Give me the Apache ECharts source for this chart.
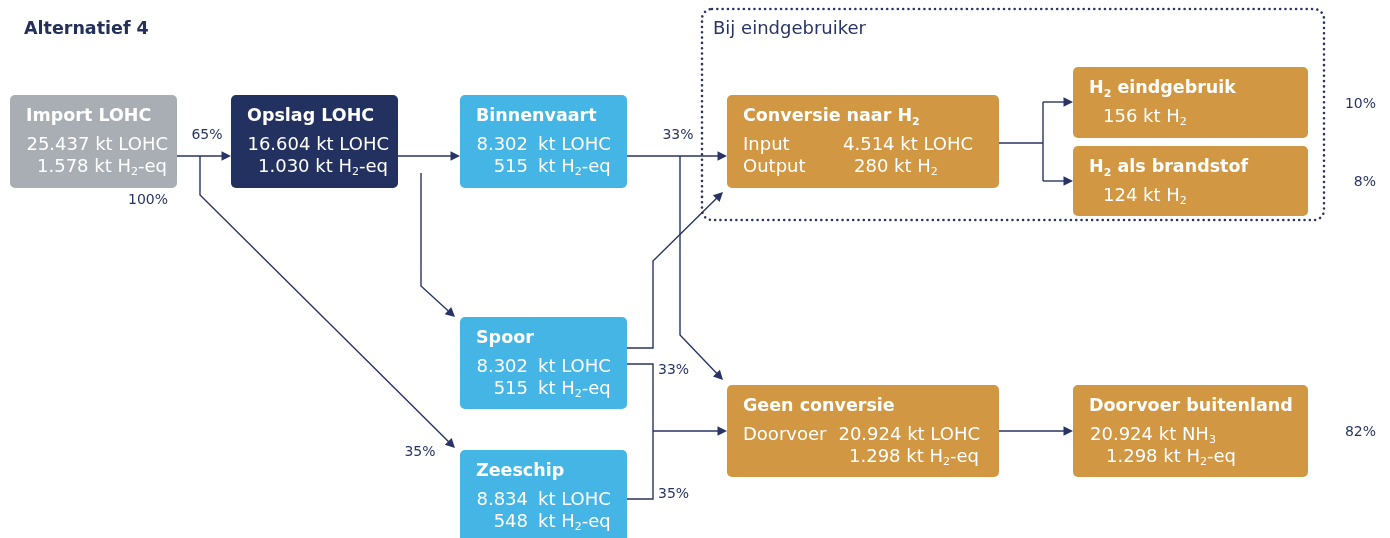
<!DOCTYPE html>
<html><head><meta charset="utf-8">
<script src="https://cdn.jsdelivr.net/npm/echarts@6/dist/echarts.min.js"></script>
<style>html,body{margin:0;padding:0;background:#fff}#c{width:1390px;height:538px}</style>
</head><body><div id="c"></div>
<script>
// ---------------- data ----------------
const chartTitle = 'Alternatief 4';
const groupLabel = 'Bij eindgebruiker';
const nodeNames = ['Import LOHC', 'Opslag LOHC', 'Binnenvaart', 'Spoor', 'Zeeschip',
  'Conversie naar H_2', 'H_2 eindgebruik', 'H_2 als brandstof', 'Geen conversie', 'Doorvoer buitenland'];
const nodeKinds = ['import', 'storage', 'transport', 'transport', 'transport', 'end', 'end', 'end', 'end', 'end'];
const nodeRows = [
  [['25.437 kt LOHC'], ['1.578 kt H_2-eq']],
  [['16.604 kt LOHC'], ['1.030 kt H_2-eq']],
  [['8.302', 'kt LOHC'], ['515', 'kt H_2-eq']],
  [['8.302', 'kt LOHC'], ['515', 'kt H_2-eq']],
  [['8.834', 'kt LOHC'], ['548', 'kt H_2-eq']],
  [['Input', '4.514 kt LOHC'], ['Output', '280 kt H_2']],
  [['156 kt H_2']],
  [['124 kt H_2']],
  [['Doorvoer', '20.924 kt LOHC'], ['', '1.298 kt H_2-eq']],
  [['20.924 kt NH_3'], ['1.298 kt H_2-eq']]
];
const shareLabels = ['65%', '100%', '35%', '33%', '33%', '35%', '10%', '8%', '82%'];

// ---------------- layout & style ----------------
const F = "'DejaVu Sans', sans-serif";
const INK = '#283564';
const kindColors = { import: '#A8AEB4', storage: '#233160', transport: '#45B5E5', end: '#D29743' };
const nodeBoxes = [
  [10, 95, 167, 93], [231, 95, 167, 93], [460, 95, 167, 93], [460, 317, 167, 92], [460, 450, 167, 95],
  [727, 95, 272, 93], [1073, 67, 235, 71], [1073, 146, 235, 70], [727, 385, 272, 92], [1073, 385, 235, 92]
];
const rowCols = [
  [[[168, 'right']], [[167, 'right']]],
  [[[389, 'right']], [[388, 'right']]],
  [[[528, 'right'], [538, 'left']], [[528, 'right'], [538, 'left']]],
  [[[528, 'right'], [538, 'left']], [[528, 'right'], [538, 'left']]],
  [[[528, 'right'], [538, 'left']], [[528, 'right'], [538, 'left']]],
  [[[743, 'left'], [843, 'left']], [[743, 'left'], [854, 'left']]],
  [[[1103, 'left']]],
  [[[1103, 'left']]],
  [[[743, 'left'], [980, 'right']], [[743, 'left'], [979, 'right']]],
  [[[1090, 'left']], [[1106, 'left']]]
];
const edgeRoutes = [
  { pts: [[177, 156], [231, 156]], arrow: true },
  { pts: [[200, 156], [200, 195], [455, 448]], arrow: true },
  { pts: [[398, 156], [460, 156]], arrow: true },
  { pts: [[421, 173], [421, 286], [455, 317]], arrow: true },
  { pts: [[627, 156], [727, 156]], arrow: true },
  { pts: [[680, 156], [680, 335], [723, 380]], arrow: true },
  { pts: [[627, 348], [653, 348], [653, 261], [723, 192]], arrow: true },
  { pts: [[627, 364], [653, 364], [653, 499], [627, 499]], arrow: false },
  { pts: [[653, 431], [727, 431]], arrow: true },
  { pts: [[999, 143], [1043, 143]], arrow: false },
  { pts: [[1043, 102], [1043, 181]], arrow: false },
  { pts: [[1043, 102], [1073, 102]], arrow: true },
  { pts: [[1043, 181], [1073, 181]], arrow: true },
  { pts: [[999, 431], [1073, 431]], arrow: true }
];
const shareLabelPos = [
  [207, 134, 'center'], [148, 199, 'center'], [420, 451, 'center'], [678, 134, 'center'],
  [658, 369, 'left'], [658, 493, 'left'], [1376, 103, 'right'], [1376, 181, 'right'], [1376, 431, 'right']
];
const groupBox = [702, 9, 622, 211];
const groupLabelPos = [713, 29.5];
const TITLE_DY = 21.5, ROW_DY = 50, ROW_STEP = 22;

const RICH = {
  b: { fontFamily: F, fontSize: 17.5, fontWeight: 'bold', fill: '#fff', lineHeight: 22 },
  bs: { fontFamily: F, fontSize: 11, fontWeight: 'bold', fill: '#fff', lineHeight: 12, verticalAlign: 'bottom' },
  n: { fontFamily: F, fontSize: 18, fontWeight: 'normal', fill: '#fff', lineHeight: 22 },
  ns: { fontFamily: F, fontSize: 11, fontWeight: 'normal', fill: '#fff', lineHeight: 12, verticalAlign: 'bottom' }
};
function richText(str, key) {
  return str.split(/_(\d)/).map((p, i) => i % 2 ? '{' + key + 's|' + p + '}' : (p ? '{' + key + '|' + p + '}' : '')).join('');
}

function renderNode(params, api) {
  const i = params.dataIndex;
  const [x, y, w, h] = nodeBoxes[i];
  const p0 = api.coord([x, y]), p1 = api.coord([x + w, y + h]);
  const children = [{
    type: 'rect',
    shape: { x: p0[0], y: p0[1], width: p1[0] - p0[0], height: p1[1] - p0[1], r: 5 },
    style: { fill: kindColors[nodeKinds[i]] }
  }];
  const tp = api.coord([x + 16, y + TITLE_DY]);
  children.push({ type: 'text', x: tp[0], y: tp[1],
    style: { text: richText(nodeNames[i], 'b'), rich: RICH, align: 'left', verticalAlign: 'middle' } });
  nodeRows[i].forEach((row, r) => {
    row.forEach((cell, c) => {
      if (!cell) return;
      const [cx, al] = rowCols[i][r][c];
      const pt = api.coord([cx, y + ROW_DY + ROW_STEP * r]);
      children.push({ type: 'text', x: pt[0], y: pt[1],
        style: { text: richText(cell, 'n'), rich: RICH, align: al, verticalAlign: 'middle' } });
    });
  });
  return { type: 'group', children };
}

function renderEdge(params, api) {
  const route = edgeRoutes[params.dataIndex];
  const pts = route.pts.map(p => api.coord(p));
  const children = [];
  if (route.arrow) {
    const n = pts.length;
    const last = pts[n - 1], prev = pts[n - 2];
    let dx = last[0] - prev[0], dy = last[1] - prev[1];
    const len = Math.hypot(dx, dy); dx /= len; dy /= len;
    const L = 9.5, W = 4.8;
    const base = [last[0] - dx * L, last[1] - dy * L];
    const px = -dy, py = dx;
    pts[n - 1] = [base[0] + dx * 2, base[1] + dy * 2];
    children.push({ type: 'polygon', shape: { points: [last, [base[0] + px * W, base[1] + py * W], [base[0] - px * W, base[1] - py * W]] },
      style: { fill: INK } });
  }
  children.unshift({ type: 'polyline', shape: { points: pts }, style: { stroke: INK, lineWidth: 1.4, fill: null } });
  return { type: 'group', children };
}

function renderShare(params, api) {
  const i = params.dataIndex;
  const [x, y, al] = shareLabelPos[i];
  const p = api.coord([x, y]);
  return { type: 'text', x: p[0], y: p[1] + 1.2,
    style: { text: shareLabels[i], fontFamily: F, fontSize: 14, fontWeight: 'normal', fill: INK, align: al, verticalAlign: 'middle' } };
}

function renderGroup(params, api) {
  const [x, y, w, h] = groupBox;
  const p0 = api.coord([x, y]), p1 = api.coord([x + w, y + h]);
  const lp = api.coord(groupLabelPos);
  return { type: 'group', children: [
    { type: 'rect', shape: { x: p0[0], y: p0[1], width: p1[0] - p0[0], height: p1[1] - p0[1], r: 10 },
      style: { fill: null, stroke: INK, lineWidth: 2.6, lineDash: [0.01, 5.3], lineCap: 'round' } },
    { type: 'text', x: lp[0], y: lp[1],
      style: { text: groupLabel, fontFamily: F, fontSize: 18, fontWeight: 'normal', fill: INK, align: 'left', verticalAlign: 'middle' } }
  ] };
}

const chart = echarts.init(document.getElementById('c'), null, { renderer: 'canvas' });
chart.setOption({
  animation: false,
  backgroundColor: '#fff',
  title: { text: chartTitle, left: 24, top: 18, padding: 0,
    textStyle: { fontFamily: F, fontSize: 17.5, fontWeight: 'bold', color: '#22305A', lineHeight: 22 } },
  grid: { left: 0, right: 0, top: 0, bottom: 0 },
  xAxis: { type: 'value', min: 0, max: 1390, show: false },
  yAxis: { type: 'value', min: 0, max: 538, inverse: true, show: false },
  series: [
    { type: 'custom', silent: true, renderItem: renderGroup, data: [[groupBox[0], groupBox[1]]] },
    { type: 'custom', silent: true, renderItem: renderEdge, data: edgeRoutes.map(r => r.pts[0]) },
    { type: 'custom', silent: true, renderItem: renderNode, data: nodeBoxes.map(b => [b[0], b[1]]) },
    { type: 'custom', silent: true, renderItem: renderShare, data: shareLabelPos.map(p => [p[0], p[1]]) }
  ]
});
</script>
</body></html>
